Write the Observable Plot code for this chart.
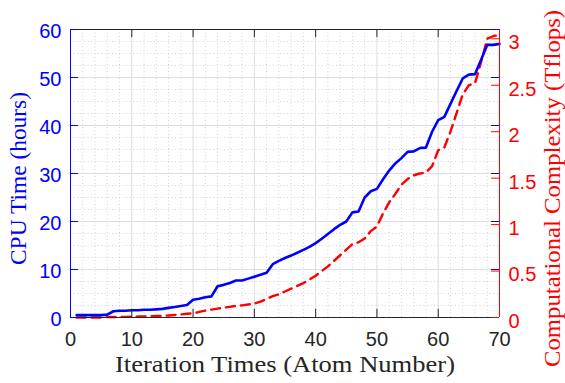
<!DOCTYPE html>
<html>
<head>
<meta charset="utf-8">
<script src="https://cdn.jsdelivr.net/npm/d3@7"></script>
<script src="https://cdn.jsdelivr.net/npm/@observablehq/plot@0.6"></script>
<style>
  html, body { margin: 0; padding: 0; background: #fff; }
  #chart { width: 565px; height: 383px; }
  text.serif-title { font-family: "Liberation Serif", "DejaVu Serif", serif !important; }
</style>
</head>
<body>
<div id="chart"></div>
<script>
// ---- data ----
const iterations = [1,2,3,4,5,6,7,8,9,10,11,12,13,14,15,16,17,18,19,20,21,22,23,24,25,26,27,28,29,30,31,32,33,34,35,36,37,38,39,40,41,42,43,44,45,46,47,48,49,50,51,52,53,54,55,56,57,58,59,60,61,62,63,64,65,66,67,68,69,70];
const cpuHours = [0.5,0.5,0.5,0.5,0.5,0.6,1.3,1.4,1.4,1.5,1.5,1.6,1.6,1.7,1.8,2.0,2.2,2.4,2.6,3.7,3.9,4.2,4.4,6.5,6.8,7.2,7.7,7.7,8.1,8.5,8.9,9.3,11.1,11.8,12.4,12.9,13.5,14.1,14.7,15.5,16.4,17.4,18.4,19.3,20.0,21.9,22.1,25.0,26.3,26.8,28.8,30.6,32.1,33.2,34.5,34.6,35.3,35.4,38.7,41.1,41.8,44.5,47.2,49.8,50.6,50.7,53.7,56.8,56.8,57.0];
const tflops = [0.0,0.0,0.0,0.0,0.0,0.005,0.005,0.006,0.007,0.008,0.01,0.012,0.014,0.016,0.018,0.022,0.027,0.033,0.04,0.045,0.06,0.075,0.085,0.095,0.105,0.115,0.125,0.13,0.14,0.15,0.17,0.2,0.23,0.25,0.28,0.31,0.34,0.37,0.41,0.45,0.5,0.55,0.61,0.67,0.73,0.79,0.81,0.85,0.93,0.98,1.12,1.24,1.33,1.43,1.49,1.53,1.55,1.56,1.63,1.80,1.83,2.0,2.2,2.4,2.5,2.52,2.75,3.0,3.03,3.04];
const xTicks = [0,10,20,30,40,50,60,70];
const leftTicks = [0,10,20,30,40,50,60];
const rightTicks = [0,0.5,1,1.5,2,2.5,3];
const xMinor = [2,4,6,8,12,14,16,18,22,24,26,28,32,34,36,38,42,44,46,48,52,54,56,58,62,64,66,68];
const yMinor = [2.5,5,7.5,12.5,15,17.5,22.5,25,27.5,32.5,35,37.5,42.5,45,47.5,52.5,55,57.5];
const xTitle = "Iteration Times (Atom Number)";
const leftTitle = "CPU Time (hours)";
const rightTitle = "Computational Complexity (Tflops)";

// ---- layout constants ----
const xMax = 70, yMax = 60, rightMax = 3.1;
const k = yMax / rightMax;           // right-axis value -> left-axis units
const tickX = 1.3, tickY = 1.7;      // inward tick lengths in data units
const rows = iterations.map((x, i) => ({x, cpu: cpuHours[i], fl: tflops[i]}));

const BLUE = "#0000ff", RED = "#ff0000", DARK = "#262626";
const sans = "Liberation Sans, Arial, sans-serif";
const serif = "Liberation Serif, DejaVu Serif, serif";

const chart = Plot.plot({
  width: 565,
  height: 383,
  marginLeft: 70,
  marginRight: 66,
  marginTop: 29,
  marginBottom: 66,
  x: {domain: [0, xMax], axis: null},
  y: {domain: [0, yMax], axis: null},
  style: {fontFamily: sans, background: "#fff", overflow: "visible"},
  marks: [
    // minor grid
    Plot.ruleX(xMinor, {stroke: "#c8c8c8", strokeWidth: 0.8, strokeDasharray: "1,2.5"}),
    Plot.ruleY(yMinor, {stroke: "#c8c8de", strokeWidth: 0.8, strokeDasharray: "1,2.5"}),
    // major grid
    Plot.ruleX(xTicks.slice(1, -1), {stroke: "#dcdcdc", strokeWidth: 1}),
    Plot.ruleY(leftTicks.slice(1, -1), {stroke: "#dcdcf0", strokeWidth: 1}),
    // data
    Plot.line(rows, {x: "x", y: d => d.fl * k, stroke: RED, strokeWidth: 2.4, strokeDasharray: "9,6"}),
    Plot.line(rows, {x: "x", y: "cpu", stroke: BLUE, strokeWidth: 2.6}),
    // box
    Plot.ruleY([0], {stroke: DARK, strokeWidth: 1}),
    Plot.ruleY([yMax], {stroke: DARK, strokeWidth: 1}),
    Plot.ruleX([0], {stroke: BLUE, strokeWidth: 1}),
    Plot.ruleX([xMax], {stroke: RED, strokeWidth: 1}),
    // ticks (inward)
    Plot.ruleX(xTicks.slice(1, -1), {y1: 0, y2: tickY, stroke: DARK, strokeWidth: 1}),
    Plot.ruleX(xTicks.slice(1, -1), {y1: yMax - tickY, y2: yMax, stroke: DARK, strokeWidth: 1}),
    Plot.ruleY(leftTicks, {x1: 0, x2: tickX, stroke: BLUE, strokeWidth: 1}),
    Plot.ruleY(leftTicks, {x1: xMax - tickX, x2: xMax, stroke: BLUE, strokeWidth: 1}),
    Plot.ruleY(rightTicks, {y: d => d * k, x1: xMax - tickX, x2: xMax, stroke: RED, strokeWidth: 1}),
    // tick labels
    Plot.text(xTicks, {x: d => d, y: 0, dy: 22, text: d => String(d), fill: DARK, fontSize: 20, lineAnchor: "middle", textAnchor: "middle"}),
    Plot.text(leftTicks, {x: 0, y: d => d, dx: -9, dy: 2, textAnchor: "end", lineAnchor: "middle", text: d => String(d), fill: BLUE, fontSize: 20}),
    Plot.text(rightTicks, {x: xMax, y: d => d * k, dx: 9, dy: 4, textAnchor: "start", lineAnchor: "middle", text: d => String(d), fill: RED, fontSize: 20}),
    // axis titles
    Plot.text([xTitle], {frameAnchor: "bottom", dy: 47, textAnchor: "middle", lineAnchor: "middle", text: d => d, fill: DARK, fontSize: 23, fontFamily: serif}),
    Plot.text([leftTitle], {frameAnchor: "left", rotate: -90, dx: -52, dy: 5, textAnchor: "middle", lineAnchor: "middle", text: d => d, fill: BLUE, fontSize: 23, fontFamily: serif}),
    Plot.text([rightTitle], {frameAnchor: "right", rotate: -90, dx: 53, dy: 15, textAnchor: "middle", lineAnchor: "middle", text: d => d, fill: RED, fontSize: 23, fontFamily: serif})
  ]
});

// serif font + stretch the titles to the width of the LaTeX-typeset originals
const titleLengths = new Map([[xTitle, 340], [leftTitle, 173], [rightTitle, 357]]);
chart.querySelectorAll("text").forEach(t => {
  const L = titleLengths.get(t.textContent);
  if (L) {
    t.classList.add("serif-title");
    t.setAttribute("textLength", L);
    t.setAttribute("lengthAdjust", "spacingAndGlyphs");
  }
});

document.getElementById("chart").appendChild(chart);
</script>
</body>
</html>
